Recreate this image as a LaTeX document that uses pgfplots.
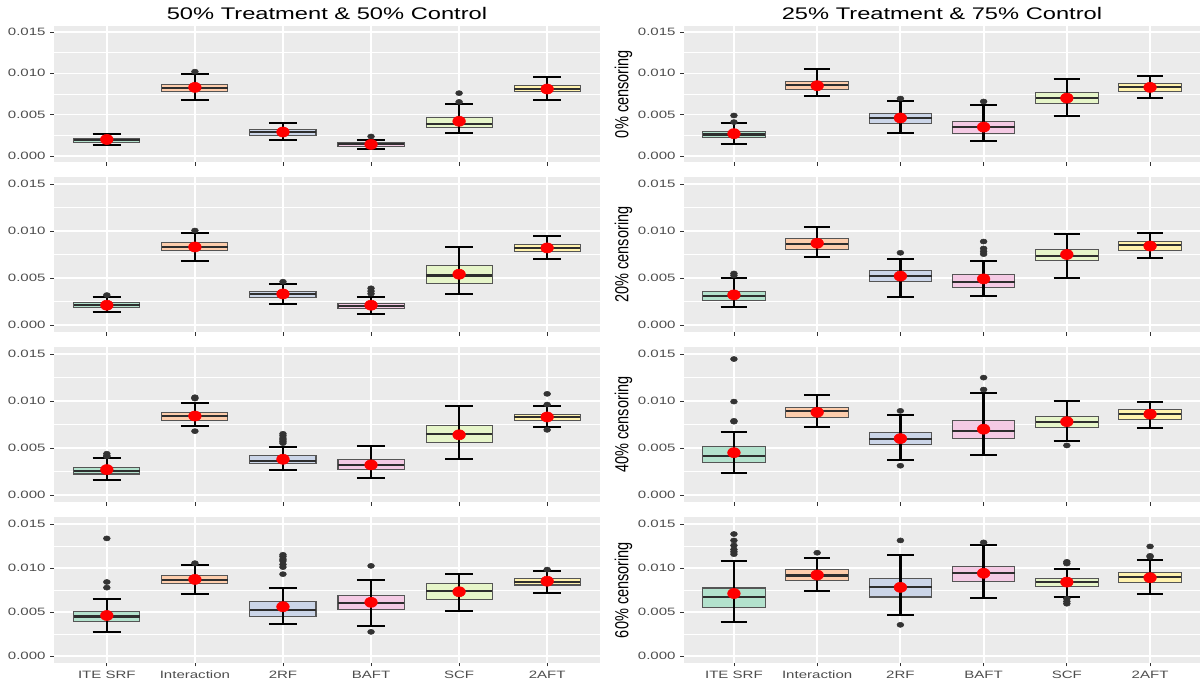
\documentclass[border=0pt]{standalone}
\usepackage{fontspec}
\setmainfont{Liberation Sans}[FakeStretch=1.41]
\newfontfamily\plainfont{Liberation Sans}
\usepackage{graphicx}
\usepackage{pgfplots}
\pgfplotsset{compat=1.18}

\definecolor{panelbg}{HTML}{EBEBEB}
\definecolor{tickgrey}{HTML}{4D4D4D}
\definecolor{tickdark}{HTML}{333333}
\definecolor{boxedge}{HTML}{555555}
\definecolor{medcol}{HTML}{2E2E2E}
\definecolor{outcol}{HTML}{333333}
\definecolor{c1}{HTML}{B3E2CD}
\definecolor{c2}{HTML}{FDCDAC}
\definecolor{c3}{HTML}{CBD5E8}
\definecolor{c4}{HTML}{F4CAE4}
\definecolor{c5}{HTML}{E6F5C9}
\definecolor{c6}{HTML}{FFF2AE}

\pgfplotsset{
  panel/.style={
    scale only axis, anchor=south west,
    xmin=0.4, xmax=6.6, ymin=-0.00075, ymax=0.01575,
    xtick={1,2,3,4,5,6}, xticklabels={},
    ytick={0,0.005,0.01,0.015}, minor ytick={0.0025,0.0075,0.0125},
    scaled y ticks=false,
    yticklabel style={/pgf/number format/fixed, /pgf/number format/fixed zerofill,
      /pgf/number format/precision=3},
    /pgf/number format/assume math mode=true,
    ticklabel style={font=\fontsize{8}{9.6}\selectfont, text=tickgrey},
    axis line style={draw=none},
    axis background/.style={fill=panelbg},
    xmajorgrids, ymajorgrids, yminorgrids,
    every major x grid/.style={white, line width=1.6pt},
    every major y grid/.style={white, line width=1pt},
    every minor y grid/.style={white, line width=0.5pt},
    tick align=outside, xtick pos=bottom, ytick pos=left,
    major tick length=2.8pt, minor tick length=0pt,
    every tick/.style={tickdark, line width=0.6pt},
  },
  outl/.style={outcol, only marks, mark=*, mark size=1.9pt,
    mark options={xscale=1.35, fill=outcol, draw=none}},
  meanpt/.style={red, only marks, mark=*, mark size=3.8pt,
    mark options={xscale=1.25, fill=red, draw=none}},
}

% box: position, lower whisker, Q1, median, Q3, upper whisker, mean
\newcommand{\bx}[7]{%
  \pgfmathsetmacro\xl{#1-0.375}\pgfmathsetmacro\xr{#1+0.375}%
  \pgfmathsetmacro\wl{#1-0.16}\pgfmathsetmacro\wr{#1+0.16}%
  \addplot[draw=boxedge, fill=c#1, line width=0.8pt]
    coordinates {(\xl,#3) (\xr,#3) (\xr,#5) (\xl,#5)} -- cycle;
  \addplot[medcol, line width=1.6pt] coordinates {(\xl,#4) (\xr,#4)};
  \addplot[black, line width=1.8pt] coordinates {(#1,#2) (#1,#6)};
  \addplot[black, line width=1.5pt] coordinates {(\wl,#2) (\wr,#2)};
  \addplot[black, line width=1.5pt] coordinates {(\wl,#6) (\wr,#6)};
  \addplot[meanpt] coordinates {(#1,#7)};
}
% row label: glyphs widened across the line, as in the rest of the figure
\newcommand{\rowlab}[1]{\scalebox{1}[1.3]{\plainfont\fontsize{10.9}{13}\selectfont #1}}

\begin{document}
\begin{tikzpicture}
\path[use as bounding box] (0,0) rectangle (900pt,513pt);

% ---------- 50% treatment & 50% control ----------
\begin{axis}[panel, at={(40.5pt,391.35pt)}, width=409.5pt, height=102.3pt]
\addplot[outl] coordinates {(2,0.0102) (4,0.00236) (5,0.00654) (5,0.0076)};
\bx{1}{0.00134}{0.00168}{0.0019}{0.00215}{0.00272}{0.0020}
\bx{2}{0.00675}{0.00776}{0.00825}{0.0087}{0.00992}{0.0083}
\bx{3}{0.00199}{0.00252}{0.00289}{0.00321}{0.00402}{0.0029}
\bx{4}{0.00081}{0.00114}{0.00142}{0.00167}{0.00195}{0.0014}
\bx{5}{0.00276}{0.00346}{0.00386}{0.00467}{0.0063}{0.0042}
\bx{6}{0.00675}{0.00776}{0.00813}{0.00854}{0.0096}{0.0081}
\end{axis}

\begin{axis}[panel, at={(40.5pt,264pt)}, width=409.5pt, height=116.25pt]
\addplot[outl] coordinates {(1,0.00318) (2,0.01005) (3,0.0046)
  (4,0.00333) (4,0.0036) (4,0.0039)};
\bx{1}{0.00142}{0.00184}{0.00209}{0.00237}{0.00301}{0.0021}
\bx{2}{0.00683}{0.00789}{0.00831}{0.00874}{0.00984}{0.0083}
\bx{3}{0.00223}{0.00294}{0.00329}{0.00361}{0.00435}{0.0033}
\bx{4}{0.00113}{0.00177}{0.00202}{0.0023}{0.00294}{0.0021}
\bx{5}{0.00326}{0.00442}{0.00527}{0.00633}{0.00828}{0.0054}
\bx{6}{0.00697}{0.00785}{0.00817}{0.00853}{0.00948}{0.0082}
\end{axis}

\begin{axis}[panel, at={(40.5pt,136.5pt)}, width=409.5pt, height=116.25pt]
\addplot[outl] coordinates {(1,0.0041) (1,0.00417) (1,0.00439)
  (2,0.00679) (2,0.01026) (2,0.0104)
  (3,0.00552) (3,0.0057) (3,0.00587) (3,0.00605) (3,0.0063) (3,0.00651)
  (6,0.00693) (6,0.00962) (6,0.01076)};
\bx{1}{0.00163}{0.00223}{0.00258}{0.00297}{0.00396}{0.0027}
\bx{2}{0.00736}{0.00796}{0.00839}{0.00881}{0.00984}{0.0084}
\bx{3}{0.00269}{0.00336}{0.00361}{0.00421}{0.00513}{0.0038}
\bx{4}{0.00177}{0.00269}{0.00315}{0.00375}{0.00517}{0.0032}
\bx{5}{0.00382}{0.00563}{0.00651}{0.00736}{0.00952}{0.0064}
\bx{6}{0.00725}{0.00793}{0.00828}{0.0086}{0.00945}{0.0083}
\end{axis}

\begin{axis}[panel, at={(40.5pt,16.05pt)}, width=409.5pt, height=108.9pt,
  xticklabels={ITE SRF, Interaction, 2RF, BAFT, SCF, 2AFT}]
\addplot[outl] coordinates {(1,0.00777) (1,0.00841) (1,0.01336)
  (2,0.01055)
  (3,0.0093) (3,0.0101) (3,0.0104) (3,0.0108) (3,0.0110) (3,0.0113) (3,0.0115)
  (4,0.00274) (4,0.01024) (6,0.00982)};
\bx{1}{0.00274}{0.00388}{0.00449}{0.00503}{0.00647}{0.0046}
\bx{2}{0.00704}{0.00819}{0.00864}{0.00914}{0.01036}{0.0087}
\bx{3}{0.00365}{0.00453}{0.00522}{0.00617}{0.00777}{0.0056}
\bx{4}{0.00339}{0.00529}{0.00598}{0.00685}{0.0086}{0.0061}
\bx{5}{0.00506}{0.00647}{0.00735}{0.00819}{0.00933}{0.0073}
\bx{6}{0.00712}{0.00807}{0.00845}{0.00879}{0.00967}{0.0085}
\end{axis}

% ---------- 25% treatment & 75% control ----------
\begin{axis}[panel, at={(513pt,391.35pt)}, width=387pt, height=102.3pt]
\addplot[outl] coordinates {(1,0.0041) (1,0.0049) (3,0.00695) (4,0.00659)};
\bx{1}{0.0015}{0.00224}{0.0026}{0.00297}{0.00394}{0.0027}
\bx{2}{0.00724}{0.008}{0.00854}{0.00902}{0.0105}{0.0085}
\bx{3}{0.00276}{0.00394}{0.00463}{0.00516}{0.00667}{0.0046}
\bx{4}{0.00179}{0.00276}{0.00346}{0.00415}{0.00618}{0.0035}
\bx{5}{0.00488}{0.00634}{0.007}{0.00764}{0.0093}{0.0070}
\bx{6}{0.00707}{0.00785}{0.00833}{0.00882}{0.00967}{0.0083}
\end{axis}

\begin{axis}[panel, at={(513pt,264pt)}, width=387pt, height=116.25pt]
\addplot[outl] coordinates {(1,0.00527) (1,0.00548) (3,0.00768)
  (4,0.00754) (4,0.00782) (4,0.00814) (4,0.00888)};
\bx{1}{0.00191}{0.00265}{0.00304}{0.00361}{0.00499}{0.0032}
\bx{2}{0.00718}{0.00807}{0.00863}{0.00916}{0.01047}{0.0087}
\bx{3}{0.00294}{0.0046}{0.00517}{0.00584}{0.007}{0.0052}
\bx{4}{0.00311}{0.00403}{0.00456}{0.00541}{0.00683}{0.0049}
\bx{5}{0.00502}{0.00683}{0.00736}{0.00803}{0.00966}{0.0075}
\bx{6}{0.00708}{0.0079}{0.00853}{0.00892}{0.00976}{0.0084}
\end{axis}

\begin{axis}[panel, at={(513pt,136.5pt)}, width=387pt, height=116.25pt]
\addplot[outl] coordinates {(1,0.0078) (1,0.00789) (1,0.00994) (1,0.01447)
  (3,0.00311) (3,0.00895) (4,0.01122) (4,0.01249) (5,0.00527)};
\bx{1}{0.0023}{0.00343}{0.00418}{0.00517}{0.00665}{0.0045}
\bx{2}{0.00722}{0.00828}{0.00892}{0.00934}{0.01065}{0.0088}
\bx{3}{0.00371}{0.00534}{0.00594}{0.00669}{0.00856}{0.0060}
\bx{4}{0.00428}{0.00598}{0.00679}{0.00796}{0.01083}{0.0070}
\bx{5}{0.0057}{0.00718}{0.00778}{0.00839}{0.01001}{0.0078}
\bx{6}{0.00715}{0.008}{0.0086}{0.00909}{0.00994}{0.0086}
\end{axis}

\begin{axis}[panel, at={(513pt,16.05pt)}, width=387pt, height=108.9pt,
  xticklabels={ITE SRF, Interaction, 2RF, BAFT, SCF, 2AFT}]
\addplot[outl] coordinates {(1,0.01157) (1,0.01184) (1,0.0121) (1,0.01256)
  (1,0.01313) (1,0.01386) (2,0.01173) (3,0.00354) (3,0.01313) (4,0.01291)
  (5,0.00594) (5,0.0062) (5,0.00651) (5,0.0105) (5,0.0107)
  (6,0.01127) (6,0.01138) (6,0.01245)};
\bx{1}{0.00385}{0.00552}{0.00674}{0.00773}{0.01085}{0.0071}
\bx{2}{0.00735}{0.00857}{0.00914}{0.00982}{0.01112}{0.0092}
\bx{3}{0.00468}{0.0067}{0.0078}{0.00883}{0.01142}{0.0078}
\bx{4}{0.00655}{0.00849}{0.00948}{0.0102}{0.01256}{0.0094}
\bx{5}{0.0067}{0.00788}{0.00838}{0.00876}{0.00994}{0.0084}
\bx{6}{0.007}{0.00834}{0.00898}{0.00952}{0.01093}{0.0089}
\end{axis}

% column titles and row labels
\node[font=\fontsize{12.6}{15}\selectfont] at (245.25pt,503pt)
  {50\% Treatment \& 50\% Control};
\node[font=\fontsize{12.6}{15}\selectfont] at (706.5pt,503pt)
  {25\% Treatment \& 75\% Control};
\node[rotate=90] at (467.6pt,442.5pt) {\rowlab{0\% censoring}};
\node[rotate=90] at (467.6pt,322.1pt) {\rowlab{20\% censoring}};
\node[rotate=90] at (467.6pt,194.6pt) {\rowlab{40\% censoring}};
\node[rotate=90] at (467.6pt,70.5pt) {\rowlab{60\% censoring}};
\end{tikzpicture}
\end{document}
